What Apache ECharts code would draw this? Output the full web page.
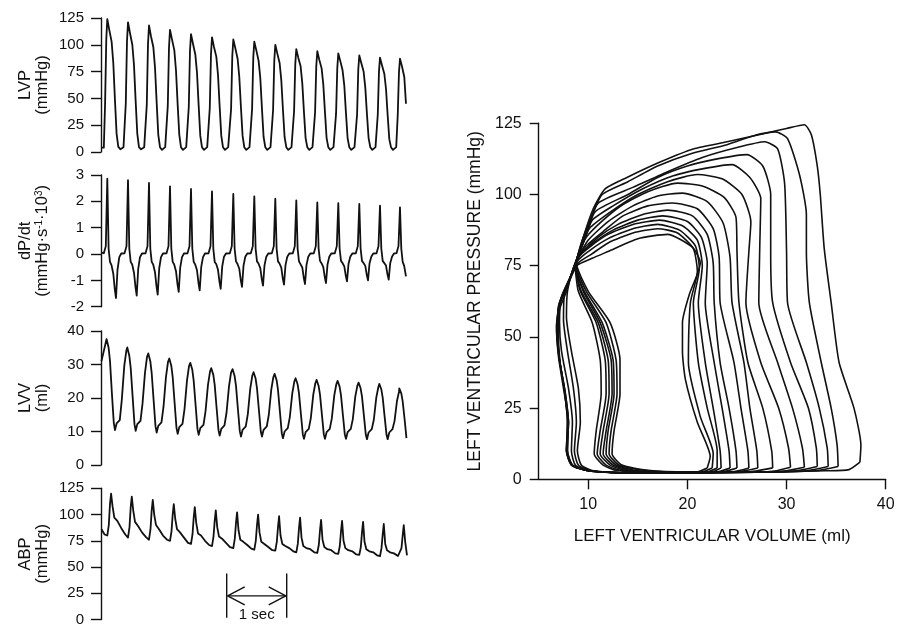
<!DOCTYPE html>
<html>
<head>
<meta charset="utf-8">
<script src="https://cdn.jsdelivr.net/npm/echarts@6/dist/echarts.min.js"></script>
<style>
html,body{margin:0;padding:0;background:#fff;}
#chart{width:901px;height:627px;}
</style>
</head>
<body>
<div id="chart"></div>
<script>
// ---------- Time-series data (time in seconds) ----------
// Times of the LV pressure peaks of the 15 beats
const beatTimes = [0.105, 0.45, 0.8, 1.15, 1.5, 1.85, 2.205, 2.555, 2.905, 3.255, 3.605, 3.955, 4.305, 4.65, 4.983];

// LVP (mmHg): sample offsets within a beat (s, relative to the peak) and values per beat
const lvpPhase = [-0.058, -0.037, -0.017, 0, 0.033, 0.072, 0.1, 0.128, 0.155, 0.183, 0.217, 0.25, 0.27];
const lvpStart = [[0.008, 4]];
const lvpBeats = [
  [4, 45, 105, 124, 114, 103, 83, 48, 17, 5, 2.5, 3, 4.5],
  [4.5, 45, 103, 121, 111, 100, 81, 47, 17, 4.5, 2.5, 3, 4.5],
  [4.5, 44, 100, 118, 108, 98, 79, 46, 16, 4.5, 2, 3, 4.5],
  [4.5, 43, 97, 114, 105, 95, 76, 44, 16, 4.5, 2, 3, 4.5],
  [4.5, 42, 94, 110, 101, 91, 74, 43, 15, 4.5, 2, 3, 4.5],
  [4.5, 41, 91, 107, 98, 89, 72, 42, 15, 4.5, 2, 3, 4.5],
  [4.5, 40, 89, 105, 97, 87, 70, 41, 15, 4.5, 2, 3, 4.5],
  [4.5, 40, 88, 103, 95, 85, 69, 40, 14, 4.5, 2, 3, 4.5],
  [4.5, 39, 85, 100, 92, 83, 67, 39, 14, 4.5, 2, 3, 4.5],
  [4.5, 38, 82, 96, 88, 80, 64, 37, 13, 4.5, 2, 3, 4.5],
  [4.5, 37, 80, 94, 86, 78, 63, 37, 13, 4.5, 2, 3, 4.5],
  [4.5, 36, 78, 92, 85, 76, 62, 36, 13, 4.5, 2, 3, 4.5],
  [4.5, 35, 77, 90, 83, 75, 60, 35, 13, 4.5, 2, 3, 4.5],
  [4.5, 35, 75, 88, 81, 73, 59, 34, 12, 4.5, 2, 3, 4.5],
  [4.5, 35, 74, 87, 80, 70, 45]
];

// dP/dt (mmHg·s-1·10^3)
const dpdtPhase = [-0.058, -0.025, 0, 0.022, 0.045, 0.07, 0.1, 0.125, 0.145, 0.17, 0.2, 0.233, 0.258];
const dpdtStart = [[0.008, 0.05]];
const dpdtBeats = [
  [0.03, 0.3, 2.86, 0.2, -0.3, -0.42, -0.75, -1.34, -1.67, -0.6, -0.12, 0.02, 0.06],
  [0.03, 0.3, 2.80, 0.2, -0.3, -0.4, -0.71, -1.26, -1.58, -0.57, -0.12, 0.02, 0.06],
  [0.03, 0.3, 2.70, 0.2, -0.3, -0.4, -0.69, -1.23, -1.54, -0.55, -0.12, 0.02, 0.06],
  [0.03, 0.3, 2.57, 0.2, -0.3, -0.4, -0.65, -1.15, -1.44, -0.52, -0.12, 0.02, 0.06],
  [0.03, 0.3, 2.47, 0.2, -0.3, -0.4, -0.62, -1.10, -1.38, -0.5, -0.12, 0.02, 0.06],
  [0.03, 0.3, 2.38, 0.2, -0.3, -0.38, -0.6, -1.06, -1.32, -0.48, -0.1, 0.02, 0.06],
  [0.03, 0.3, 2.28, 0.2, -0.28, -0.38, -0.56, -1.0, -1.25, -0.45, -0.1, 0.02, 0.06],
  [0.03, 0.3, 2.19, 0.2, -0.28, -0.36, -0.54, -0.96, -1.2, -0.43, -0.1, 0.02, 0.06],
  [0.03, 0.3, 2.10, 0.2, -0.28, -0.36, -0.52, -0.93, -1.16, -0.42, -0.1, 0.02, 0.06],
  [0.03, 0.3, 2.04, 0.2, -0.28, -0.35, -0.51, -0.91, -1.14, -0.41, -0.1, 0.02, 0.06],
  [0.03, 0.3, 1.96, 0.2, -0.26, -0.35, -0.5, -0.88, -1.1, -0.4, -0.1, 0.02, 0.06],
  [0.03, 0.3, 1.93, 0.2, -0.26, -0.34, -0.47, -0.83, -1.04, -0.38, -0.1, 0.02, 0.06],
  [0.03, 0.3, 1.90, 0.2, -0.26, -0.34, -0.45, -0.8, -1.0, -0.36, -0.1, 0.02, 0.06],
  [0.03, 0.3, 1.84, 0.2, -0.26, -0.33, -0.44, -0.78, -0.97, -0.35, -0.1, 0.02, 0.06],
  [0.03, 0.3, 1.77, 0.2, -0.3, -0.45, -0.85]
];

// LVV (ml)
const lvvPhase = [-0.012, 0.022, 0.045, 0.078, 0.108, 0.128, 0.155, 0.208, 0.242, 0.283, 0.317];
const lvvStart = [[0.008, 31]];
const lvvBeats = [
  [37.6, 35, 31, 21, 12.6, 10.4, 12.4, 13.4, 19.5, 29.6, 34.1],
  [35.1, 32.6, 29, 20.2, 12.2, 10.2, 12.2, 13.2, 18.3, 27.5, 32.3],
  [33.3, 31, 27.4, 19.1, 11.6, 9.7, 11.7, 12.7, 17.4, 26.3, 30.8],
  [31.8, 29.6, 26.2, 18.3, 11.1, 9.3, 11.3, 12.3, 16.7, 25.2, 29.5],
  [30.5, 28.4, 25.1, 17.6, 10.7, 9.0, 11, 12, 16, 23.9, 27.9],
  [28.9, 26.9, 23.9, 16.8, 10.4, 8.8, 10.8, 11.8, 15.6, 23.4, 27.6],
  [28.6, 26.6, 23.6, 16.5, 10.1, 8.5, 10.5, 11.5, 15.2, 22.9, 26.7],
  [27.7, 25.8, 22.9, 16.2, 10, 8.5, 10.5, 11.5, 15, 22.5, 26.2],
  [27.2, 25.3, 22.4, 15.7, 9.5, 8.0, 10, 11, 14.3, 21.4, 24.9],
  [25.9, 24.1, 21.4, 15, 9.2, 7.8, 9.8, 10.8, 14, 21, 24.4],
  [25.4, 23.6, 21, 14.8, 9.2, 7.8, 9.8, 10.8, 13.9, 20.8, 24.1],
  [25.1, 23.4, 20.8, 14.7, 9.2, 7.8, 9.8, 10.8, 13.7, 20.4, 23.6],
  [24.6, 22.9, 20.4, 14.5, 9.1, 7.7, 9.7, 10.7, 13.5, 20.1, 23.2],
  [24.2, 22.6, 20.1, 14.3, 9.1, 7.7, 9.7, 10.7, 13.1, 19.1, 21.9],
  [22.9, 21.4, 19, 13.5, 8.0]
];

// ABP (mmHg)
const abpPhase = [0, 0.025, 0.045, 0.063, 0.087, 0.117, 0.167, 0.233, 0.3];
const abpStart = [[0.008, 86], [0.06, 81]];
const abpBeats = [
  [80, 90, 110, 120, 108, 97, 94, 87, 81],
  [78, 88, 107, 117, 104, 93, 89, 83, 78.5],
  [76, 86, 104, 114, 100, 90, 86, 80, 76],
  [75, 84, 100, 110, 96, 86, 83, 78, 73],
  [72, 81, 97, 107, 92, 82, 80, 75, 71],
  [70, 79, 94, 104, 88, 79, 77, 73, 69],
  [68, 77, 92, 102, 85, 76, 74, 71, 67.5],
  [66.5, 75, 90, 100, 83, 74, 72, 69, 66],
  [65.6, 74, 88, 98.4, 80, 72, 70, 68, 65],
  [64, 72, 87, 97, 78, 70, 68, 67, 64],
  [63.4, 71, 85, 95, 76, 69, 67, 66, 63],
  [62.5, 70, 84, 94, 75, 68, 66, 65, 62],
  [61.5, 69, 83, 93, 74, 67, 65, 64, 61],
  [60.3, 68, 81, 91, 72, 66, 64, 63, 60.5],
  [60.3, 68, 80, 90, 74, 61]
];

// 1-second scale bar (s) and its drawing levels (mmHg on ABP axis)
const scaleBarSec = [2.095, 3.095];
const scaleBarLevels = { low: 1.6, high: 43.8, shaft: 22.5, arm: 8.6, armLen: 0.3, label: 4.5 };

// ---------- Pressure–volume loops: [volume ml, pressure mmHg] ----------
const pvLoops = [
  [[37.4,6],[37.5,12],[36.8,25],[35.3,41],[34.5,62],[33.8,81],[33.4,100],[33.1,110],[32.5,121],[31.8,124.5],[30,123.2],[27.9,121.5],[24,118.5],[20.6,116],[17.3,111.5],[13.9,106],[11.7,102],[10.5,95],[9.5,85],[8.8,76],[10,66],[12.2,55],[13.2,42],[13.2,30],[12.6,17],[12.4,9],[13.4,5],[16,3.2],[20,2.6],[27,2.6],[34,3],[36.3,3.4],[37.4,6]],
  [[35.2,4.5],[35.1,12],[34.5,25],[33.5,41],[32.3,62],[32,80],[32,93],[31.3,107],[30.1,119.6],[28.9,122],[27,121],[24,117.5],[20.5,114.5],[17,110],[14,104.5],[11.4,100],[10.3,92],[9.3,83],[8.8,75],[9.8,66],[11.8,55],[12.8,42],[12.9,30],[12.3,17],[12.1,9],[13.1,5],[15.5,3.2],[20,2.5],[27,2.5],[33,3],[35.2,4.5]],
  [[34.2,4.5],[34.1,11],[33.3,25],[32,41],[30.1,62],[30,80],[29.8,104],[29.1,116],[27.8,118.5],[25,116.5],[21.5,113],[18,108],[14.5,102.5],[11,97],[10,89],[9.1,80],[8.7,75],[9.6,66],[11.4,55],[12.5,42],[12.6,30],[12,17],[11.8,9],[12.8,5],[15,3],[20,2.4],[27,2.5],[32,3],[34.2,4.5]],
  [[33.1,4.5],[33,11],[32.2,25],[30.4,41],[28.6,62],[28.4,80],[28.4,100],[27.6,110],[26,114],[23,112.5],[20,110],[17,106],[14,100],[10.7,94],[9.8,86],[9,79],[8.7,75],[9.5,66],[11.2,55],[12.3,42],[12.4,30],[11.8,17],[11.5,9],[12.5,5],[14.5,3],[20,2.4],[27,2.5],[31,3],[33.1,4.5]],
  [[31.8,4.2],[31.6,11],[30.6,25],[29.1,41],[27.2,62],[27.3,82],[27.4,98.6],[26.3,106],[24.5,110.5],[21.5,109],[18.5,106.5],[15.5,102],[12.5,96],[10.4,91],[9.6,84],[8.9,78],[8.7,75],[9.3,66],[11,55],[12,42],[12.1,30],[11.5,17],[11.2,9],[12.2,5],[14,3],[20,2.4],[27,2.5],[30,3],[31.8,4.2]],
  [[30.4,4.2],[30.2,11],[29.2,25],[27.4,41],[25.9,62],[26.2,80],[26.4,90.4],[25.5,100],[23.5,105.5],[21,107],[18,104.5],[15,100],[12.5,94.5],[10.1,88],[9.3,81],[8.7,75],[9.2,66],[10.8,55],[11.7,42],[11.8,30],[11.2,17],[10.9,9],[11.8,5],[13.5,3],[20,2.4],[27,2.5],[29,3],[30.4,4.2]],
  [[28.6,4],[28.5,10],[27.6,25],[26.1,41],[25.2,62],[25,80],[24.9,92],[23.7,99],[21.5,103],[19,104],[16,101],[13.5,96.5],[11.5,91],[9.8,85],[9,79],[8.7,75],[9,66],[10.4,55],[11.2,42],[11.3,30],[10.8,17],[10.6,9],[11.5,5],[13,3],[20,2.4],[26,2.5],[28.6,4]],
  [[27.1,4],[27,10],[26.3,25],[25.7,41],[24.5,62],[24.3,78],[23.6,90],[22,97.5],[19.5,100.5],[17,99.5],[14.5,96],[12,90.5],[10,84],[9,78],[8.5,74],[7.9,66],[7.8,57],[8.3,45],[9,32],[9.2,20],[8.9,10],[9.3,5],[10.5,3],[14,2.2],[20,2.3],[25,2.6],[27.1,4]],
  [[26.2,4],[26.1,10],[25.4,25],[24.7,41],[23.3,62],[23.2,78],[22.6,88],[21,95],[18.5,97],[16,96],[13.5,92.5],[11.5,87],[9.8,82],[8.8,77],[8.4,73],[7.6,65],[7.5,56],[7.9,45],[8.5,32],[8.8,20],[8.6,10],[9,5],[10.3,3],[14,2.2],[20,2.3],[24.5,2.6],[26.2,4]],
  [[25,4],[24.9,10],[24.2,25],[23.3,41],[22.7,62],[22.6,76],[22,86],[20.5,92.5],[18,94.5],[15.5,93],[13,89.5],[11,85],[9.5,80],[8.7,76],[8.3,72],[7.3,64],[7.1,55],[7.3,45],[8,32],[8.4,20],[8.3,10],[8.7,5],[10,3],[14,2.2],[20,2.3],[23.5,2.6],[25,4]],
  [[24.3,4],[24.2,10],[23.5,25],[22.7,41],[21.8,62],[22,76],[21.4,85],[20,90.5],[17.5,92.5],[15,91],[12.5,87.5],[10.5,83],[9.2,79],[8.6,75],[8.2,71],[7.2,63],[6.8,54],[7,44],[7.6,32],[8,20],[7.9,10],[8.4,5],[10,3],[14,2.2],[20,2.3],[23,2.6],[24.3,4]],
  [[23.4,4],[23.3,10],[22.6,25],[21.8,41],[21.1,62],[21.5,75],[21,84],[19.5,89],[17.2,91],[14.5,89.5],[12,86],[10.3,82],[9,78],[8.5,74],[8.1,70],[7.1,62],[6.8,53],[7,43],[7.5,32],[8,20],[7.8,10],[8.4,5],[10,3],[14,2.2],[20,2.3],[22.5,2.6],[23.4,4]],
  [[23,4],[23,10],[22,25],[21.1,41],[20.6,62],[21.2,74],[20.8,82],[19.2,87.5],[17,89.5],[14.5,88],[12,84.5],[10.2,80.5],[9,77],[8.4,73],[8,69],[7,61],[6.9,52],[7.1,42],[7.6,31],[7.9,20],[7.8,10],[8.3,5],[10,3],[14,2.2],[20,2.3],[22,2.6],[23,4]],
  [[22.5,4],[22.6,9],[21.3,22],[20.1,41],[20.3,62],[21,73],[20.6,81],[19,86.5],[17,88],[14.5,86.5],[12,83],[10.3,79],[9,76],[8.4,72],[7.9,68],[7,60],[6.9,51],[7.1,42],[7.6,31],[7.9,20],[7.8,10],[8.3,5],[10,3],[14,2.2],[20,2.3],[21.5,2.6],[22.5,4]],
  [[22,4],[22.3,8],[21,20],[19.8,35],[19.5,45],[19.5,55],[20.2,65],[21,72],[21.3,76],[20.5,81.5],[18,86],[15,84.5],[12,80],[10.4,77.6],[8.8,75],[8.2,71],[7.8,66],[7,58],[7,50],[7.2,40],[7.7,30],[8,20],[7.9,10],[8.4,5],[10,3],[14,2.2],[19,2.3],[21,2.6],[22,4]]
];

// Axis tick values
const lvpTicks = { min: 0, max: 125, step: 25 };
const dpdtTicks = { min: -2, max: 3, step: 1 };
const lvvTicks = { min: 0, max: 40, step: 10 };
const abpTicks = { min: 0, max: 125, step: 25 };
const pvVolumeTicks = [10, 20, 30, 40];
const pvPressureTicks = { min: 0, max: 125, step: 25 };
const timeRange = [0, 5.1];
const pvVolumeRange = [5, 40];

// ---------- Build ----------
const FONT = '"Liberation Sans", Arial, Helvetica, sans-serif';
const INK = '#111';

function buildTrace(start, phases, beats) {
  const out = start.map(p => p.slice());
  beats.forEach((row, i) => {
    row.forEach((v, j) => out.push([+(beatTimes[i] + phases[j]).toFixed(4), v]));
  });
  return out;
}

const lvpData = buildTrace(lvpStart, lvpPhase, lvpBeats);
const dpdtData = buildTrace(dpdtStart, dpdtPhase, dpdtBeats);
const lvvData = buildTrace(lvvStart, lvvPhase, lvvBeats);
const abpData = buildTrace(abpStart, abpPhase, abpBeats);

const leftGrids = [
  { left: 101, width: 306, top: 18, height: 134 },
  { left: 101, width: 306, top: 175, height: 131.7 },
  { left: 101, width: 306, top: 331, height: 134 },
  { left: 101, width: 306, top: 488.3, height: 133.4 }
];
const rightGrid = { left: 538.7, width: 347, top: 123.3, height: 356 };

function leftY(idx, t, name, rich) {
  return {
    gridIndex: idx, type: 'value', min: t.min, max: t.max, interval: t.step,
    axisLine: { show: true, lineStyle: { color: INK, width: 1.4 } },
    axisTick: { show: true, length: 10, lineStyle: { color: INK, width: 1.4 } },
    axisLabel: { fontSize: 15, color: INK, fontFamily: FONT, margin: 17 },
    splitLine: { show: false },
    name: name, nameLocation: 'middle', nameRotate: 90, nameGap: 50,
    nameTextStyle: {
      fontSize: 16.5, color: INK, fontFamily: FONT, lineHeight: 17,
      rich: rich || {}
    }
  };
}

function leftX(idx) {
  return { gridIndex: idx, type: 'value', min: timeRange[0], max: timeRange[1], show: false,
           splitLine: { show: false }, axisLine: { show: false }, axisTick: { show: false }, axisLabel: { show: false } };
}

function trace(idx, data) {
  return {
    type: 'line', xAxisIndex: idx, yAxisIndex: idx, data: data,
    showSymbol: false, symbol: 'none', smooth: false,
    lineStyle: { color: INK, width: 1.8, join: 'round' }, silent: true
  };
}

const supRich = {
  n: { fontSize: 16.5, lineHeight: 17, fontFamily: FONT, color: INK },
  s: { fontSize: 10, lineHeight: 11, verticalAlign: 'top', fontFamily: FONT, color: INK }
};

const series = [
  trace(0, lvpData),
  trace(1, dpdtData),
  trace(2, lvvData),
  trace(3, abpData)
];

// Scale bar drawn in the ABP panel's coordinates
const sb = scaleBarLevels;
const sbSegments = [
  [[scaleBarSec[0], sb.low], [scaleBarSec[0], sb.high]],
  [[scaleBarSec[1], sb.low], [scaleBarSec[1], sb.high]],
  [[scaleBarSec[0] + 0.015, sb.shaft], [scaleBarSec[1] - 0.015, sb.shaft]],
  [[scaleBarSec[0] + sb.armLen, sb.shaft + sb.arm], [scaleBarSec[0] + 0.015, sb.shaft], [scaleBarSec[0] + sb.armLen, sb.shaft - sb.arm]],
  [[scaleBarSec[1] - sb.armLen, sb.shaft + sb.arm], [scaleBarSec[1] - 0.015, sb.shaft], [scaleBarSec[1] - sb.armLen, sb.shaft - sb.arm]]
];
sbSegments.forEach(seg => series.push({
  type: 'line', xAxisIndex: 3, yAxisIndex: 3, data: seg, showSymbol: false, symbol: 'none',
  lineStyle: { color: INK, width: 1.4 }, silent: true, clip: false
}));
series.push({
  type: 'scatter', xAxisIndex: 3, yAxisIndex: 3, symbolSize: 0,
  itemStyle: { color: INK }, silent: true, clip: false,
  data: [[(scaleBarSec[0] + scaleBarSec[1]) / 2, sb.label]],
  label: { show: true, position: 'inside', formatter: '1 sec', fontSize: 15, color: INK, fontFamily: FONT, opacity: 1 }
});

pvLoops.forEach(loop => series.push({
  type: 'line', xAxisIndex: 4, yAxisIndex: 4, data: loop,
  showSymbol: false, symbol: 'none', smooth: 0.2,
  lineStyle: { color: INK, width: 1.6 }, silent: true
}));

const option = {
  animation: false,
  backgroundColor: '#fff',
  textStyle: { fontFamily: FONT },
  grid: leftGrids.concat([rightGrid]),
  xAxis: [
    leftX(0), leftX(1), leftX(2), leftX(3),
    {
      gridIndex: 4, type: 'value', min: pvVolumeRange[0], max: pvVolumeRange[1],
      axisLine: { show: true, onZero: false, lineStyle: { color: INK, width: 1.4 } },
      axisTick: { show: true, length: 10, customValues: pvVolumeTicks, lineStyle: { color: INK, width: 1.4 } },
      axisLabel: { fontSize: 16, color: INK, fontFamily: FONT, margin: 17, customValues: pvVolumeTicks },
      splitLine: { show: false },
      name: 'LEFT VENTRICULAR VOLUME (ml)', nameLocation: 'middle', nameGap: 49,
      nameTextStyle: { fontSize: 17, color: INK, fontFamily: FONT }
    }
  ],
  yAxis: [
    leftY(0, lvpTicks, 'LVP\n(mmHg)'),
    leftY(1, dpdtTicks, '{n|dP/dt}\n{n|(mmHg·s}{s|-1}{n|·10}{s|3}{n|)}', supRich),
    leftY(2, lvvTicks, 'LVV\n(ml)'),
    leftY(3, abpTicks, 'ABP\n(mmHg)'),
    {
      gridIndex: 4, type: 'value', min: pvPressureTicks.min, max: pvPressureTicks.max, interval: pvPressureTicks.step,
      axisLine: { show: true, onZero: false, lineStyle: { color: INK, width: 1.4 } },
      axisTick: { show: true, length: 9, lineStyle: { color: INK, width: 1.4 } },
      axisLabel: { fontSize: 16, color: INK, fontFamily: FONT, margin: 17 },
      splitLine: { show: false },
      name: 'LEFT VENTRICULAR PRESSURE (mmHg)', nameLocation: 'middle', nameRotate: 90, nameGap: 55,
      nameTextStyle: { fontSize: 17.5, color: INK, fontFamily: FONT }
    }
  ],
  series: series
};

const chart = echarts.init(document.getElementById('chart'), null, { renderer: 'canvas' });
chart.setOption(option);
</script>
</body>
</html>
